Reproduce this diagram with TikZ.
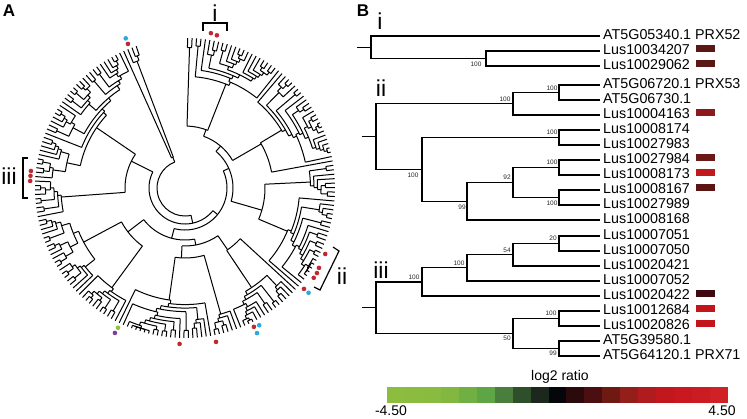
\documentclass[tikz,border=0pt]{standalone}
\usepackage{fontspec}
\setmainfont{Liberation Sans}
\definecolor{dred}{HTML}{C1272D}
\definecolor{dblue}{HTML}{29A9E0}
\definecolor{dgreen}{HTML}{8CC63F}
\definecolor{dpurple}{HTML}{7F3F98}
\definecolor{cb0}{HTML}{8CBD3F}
\definecolor{cb1}{HTML}{8BBC3F}
\definecolor{cb2}{HTML}{89BB40}
\definecolor{cb3}{HTML}{83B840}
\definecolor{cb4}{HTML}{72AF43}
\definecolor{cb5}{HTML}{5EA545}
\definecolor{cb6}{HTML}{4A7E3C}
\definecolor{cb7}{HTML}{2F4F2B}
\definecolor{cb8}{HTML}{1C281D}
\definecolor{cb9}{HTML}{05060A}
\definecolor{cb10}{HTML}{2A0A0C}
\definecolor{cb11}{HTML}{4B0E11}
\definecolor{cb12}{HTML}{6F1913}
\definecolor{cb13}{HTML}{931E1A}
\definecolor{cb14}{HTML}{B01C1E}
\definecolor{cb15}{HTML}{C2171D}
\definecolor{cb16}{HTML}{C9181F}
\definecolor{cb17}{HTML}{CC1C23}
\definecolor{cb18}{HTML}{D02127}
\definecolor{sw1}{HTML}{5A1714}
\definecolor{sw2}{HTML}{8C1A1B}
\definecolor{sw3}{HTML}{6B1916}
\definecolor{sw4}{HTML}{C01A1F}
\definecolor{sw5}{HTML}{5A1512}
\definecolor{sw6}{HTML}{3E0A0F}
\definecolor{sw7}{HTML}{C4141B}
\tikzset{
  treeA/.style={line width=1pt},
  treeB/.style={line width=1.2pt},
  leaflab/.style={font=\fontsize{14.3}{15}\selectfont, anchor=base west, inner sep=0pt},
  bs/.style={font=\fontsize{6.5}{7}\selectfont, inner sep=0pt, text=black!85},
  clab/.style={font=\fontsize{23}{24}\selectfont, inner sep=0pt},
  plab/.style={font=\bfseries\fontsize{17}{18}\selectfont, inner sep=0pt},
  dotm/.style={circle, inner sep=0pt, minimum size=4.6pt, draw=none},
  swatch/.style={minimum width=19pt, minimum height=7pt, inner sep=0pt, draw=none},
  axlab/.style={font=\fontsize{14}{15}\selectfont, inner sep=0pt},
}
% circular tree generator
\def\tThetaZ{89}
\def\tDelta{1.708543}
\def\tRtip{150}
\newcommand\tmid[3]{\pgfmathsetmacro#1{\tThetaZ-\tDelta*(#2+(#3-1)/2)}}
\newcommand\tsub[4]{%
  \tmid\tA{#1}{#2}%
  \ifnum#2=1\relax
    \draw[treeA] (\tA:#3pt) -- (\tA:\tRtip pt);%
  \else
    \draw[treeA] (\tA:#3pt) -- (\tA:#4pt);%
    \pgfmathtruncatemacro\tH{mod(#1*7+#2*13+3,11)}%
    \pgfmathtruncatemacro\tNa{\tH<3 ? 1 : (\tH==3 ? #2-1 : (\tH<6 ? 2 : round(#2*(0.2+0.08*(\tH-6)))))}%
    \pgfmathtruncatemacro\tNa{max(1,min(#2-1,\tNa))}%
    \pgfmathtruncatemacro\tNb{#2-\tNa}%
    \pgfmathtruncatemacro\tFb{#1+\tNa}%
    \tmid\tMa{#1}{\tNa}%
    \tmid\tMb{\tFb}{\tNb}%
    \draw[treeA] (\tMa:#4pt) arc[start angle=\tMa, end angle=\tMb, radius=#4pt];%
    \pgfmathsetmacro\tRa{min(147, max(#4+3.5, 153-8.5*ln(\tNa)/ln(2)-2*mod(#1+\tNa,3)))}%
    \pgfmathsetmacro\tRb{min(147, max(#4+3.5, 153-8.5*ln(\tNb)/ln(2)-2*mod(\tFb+\tNb,3)))}%
    \edef\tNext{\noexpand\tsub{#1}{\tNa}{#4}{\tRa}\noexpand\tsub{\tFb}{\tNb}{#4}{\tRb}}%
    \tNext
  \fi}
\newcommand\tjoin[5]{%
  \pgfmathtruncatemacro\tJn{#2+#3}%
  \tmid\tA{#1}{\tJn}%
  \pgfmathtruncatemacro\tJf{#1+#2}%
  \tmid\tMa{#1}{#2}%
  \tmid\tMb{\tJf}{#3}%
  \draw[treeA] (\tA:#4pt) -- (\tA:#5pt);%
  \draw[treeA] (\tMa:#5pt) arc[start angle=\tMa, end angle=\tMb, radius=#5pt];}
\begin{document}
\begin{tikzpicture}[x=1pt,y=-1pt]
\useasboundingbox (0,0) rectangle (747,418);
% ---------- panel A ----------
\node[plab] (pA) at (9,11) {A};
\begin{scope}[shift={(185,188)}]
  \tjoin{0}{196}{4}{28}{28}
  \tsub{196}{4}{28}{33}
  \tjoin{0}{151}{45}{28}{36}
  \tsub{151}{45}{36}{60}
  \tjoin{0}{77}{74}{36}{42}
  \tjoin{0}{47}{30}{42}{48}
  \tjoin{0}{23}{24}{48}{55}
  \tsub{0}{23}{55}{62}
  \tsub{23}{24}{55}{88}
  \tsub{47}{30}{48}{80}
  \tjoin{77}{44}{30}{42}{52}
  \tjoin{77}{16}{28}{52}{58}
  \tsub{77}{16}{58}{75}
  \tsub{93}{28}{58}{70}
  \tsub{121}{30}{52}{72}
  % markers
  \node[dotm, fill=dred] (m1) at (80.5:157pt) {};
  \node[dotm, fill=dred] (m2) at (78.2:156pt) {};
  \node[dotm, fill=dred] (m3) at (111.6:155pt) {};
  \node[dotm, fill=dblue] (m4) at (111.6:161pt) {};
  \node[dotm, fill=dred] (m5) at (173.7:155pt) {};
  \node[dotm, fill=dred] (m6) at (175.5:155pt) {};
  \node[dotm, fill=dred] (m7) at (177.4:155pt) {};
  \node[dotm, fill=dgreen] (m8) at (244.4:155pt) {};
  \node[dotm, fill=dpurple] (m9) at (244.2:161pt) {};
  \node[dotm, fill=dred] (m10) at (268:156pt) {};
  \node[dotm, fill=dred] (m11) at (281.4:157pt) {};
  \node[dotm, fill=dred] (m12) at (296.4:155pt) {};
  \node[dotm, fill=dblue] (m13) at (298.4:156pt) {};
  \node[dotm, fill=dblue] (m14) at (296.4:162pt) {};
  \node[dotm, fill=dred] (m15) at (334.8:155pt) {};
  \node[dotm, fill=dred] (m16) at (329.2:156pt) {};
  \node[dotm, fill=dred] (m17) at (327.2:157pt) {};
  \node[dotm, fill=dred] (m18) at (325.1:157pt) {};
  \node[dotm, fill=dred] (m19) at (319.7:156pt) {};
  \node[dotm, fill=dblue] (m20) at (319.7:162pt) {};
\end{scope}
% brackets A
\draw[treeB] (203,31) -- (203,23) -- (227,23) -- (227,31);
\node[clab] (ai) at (215,13) {i};
\draw[treeB] (28,158) -- (23,158) -- (23,198) -- (28,198);
\node[clab] (aiii) at (9,176) {iii};
\draw[treeB] (333,247) -- (339,251) -- (320,290) -- (314,287);
\node[clab] (aii) at (342,276) {ii};
% ---------- panel B ----------
\node[plab] (pB) at (363,11) {B};
\node[clab] (bi) at (380,21) {i};
\node[clab] (bii) at (381,88) {ii};
\node[clab] (biii) at (381,270) {iii};
\foreach \i/\y/\t in {1/36/{AT5G05340.1 PRX52},2/51/{Lus10034207},3/66/{Lus10029062},
  4/85/{AT5G06720.1 PRX53},5/100/{AT5G06730.1},6/115/{Lus10004163},7/130/{Lus10008174},
  8/145/{Lus10027983},9/160/{Lus10027984},10/175/{Lus10008173},11/190/{Lus10008167},
  12/205/{Lus10027989},13/220/{Lus10008168},14/236/{Lus10007051},15/251/{Lus10007050},
  16/266/{Lus10020421},17/281/{Lus10007052},18/296/{Lus10020422},19/311/{Lus10012684},
  20/326/{Lus10020826},21/341/{AT5G39580.1},22/356/{AT5G64120.1 PRX71}}{
  \coordinate (l\i) at (600,\y);
  \node[leaflab] (t\i) at (603,\y+3) {\t};
}
% clade i
\coordinate (si) at (357,47.25);
\coordinate (ci) at (371,47.25);
\coordinate (c1) at (486,58.5);
\draw[treeB] (si) -- (ci) (ci) |- (l1) (ci) |- (c1) (c1) |- (l2) (c1) |- (l3);
% clade ii
\coordinate (iia) at (559,92.5);
\coordinate (iib) at (513,103.75);
\coordinate (iic) at (559,137.5);
\coordinate (iid) at (559,167.5);
\coordinate (iie) at (559,197.5);
\coordinate (iif) at (513,182.5);
\coordinate (iig) at (467,201.25);
\coordinate (iih) at (422,169.375);
\coordinate (iir) at (376,136.56);
\coordinate (sii) at (362,136.56);
\draw[treeB] (sii) -- (iir) (iir) |- (iib) (iir) |- (iih) (iib) |- (iia) (iib) |- (l6)
  (iia) |- (l4) (iia) |- (l5) (iih) |- (iic) (iih) |- (iig) (iic) |- (l7) (iic) |- (l8)
  (iig) |- (iif) (iig) |- (l13) (iif) |- (iid) (iif) |- (iie) (iid) |- (l9) (iid) |- (l10)
  (iie) |- (l11) (iie) |- (l12);
% clade iii
\coordinate (iiia) at (559,243.5);
\coordinate (iiib) at (513,254.75);
\coordinate (iiic) at (467,267.875);
\coordinate (iiid) at (422,281.94);
\coordinate (iiie) at (559,318.5);
\coordinate (iiif) at (559,348.5);
\coordinate (iiig) at (513,333.5);
\coordinate (iiir) at (376,307.72);
\coordinate (siii) at (362,307.72);
\draw[treeB] (siii) -- (iiir) (iiir) |- (iiid) (iiir) |- (iiig) (iiid) |- (iiic) (iiid) |- (l18)
  (iiic) |- (iiib) (iiic) |- (l17) (iiib) |- (iiia) (iiib) |- (l16) (iiia) |- (l14) (iiia) |- (l15)
  (iiig) |- (iiie) (iiig) |- (iiif) (iiie) |- (l19) (iiie) |- (l20) (iiif) |- (l21) (iiif) |- (l22);
% bootstrap values
\node[bs] (b1) at (476,64) {100};
\node[bs] (b2) at (552,88) {100};
\node[bs] (b3) at (505,99) {100};
\node[bs] (b4) at (552,132) {100};
\node[bs] (b5) at (552,162) {100};
\node[bs] (b6) at (507,177) {92};
\node[bs] (b7) at (552,203) {100};
\node[bs] (b8) at (462,207) {99};
\node[bs] (b9) at (413,175) {100};
\node[bs] (b10) at (553,238) {20};
\node[bs] (b11) at (507,250) {54};
\node[bs] (b12) at (459,263) {100};
\node[bs] (b13) at (414,277) {100};
\node[bs] (b14) at (551,313) {100};
\node[bs] (b15) at (507,338) {50};
\node[bs] (b16) at (553,353) {99};
% swatches
\node[swatch, fill=sw1] (s2) at (705.5,48) {};
\node[swatch, fill=sw1] (s3) at (705.5,63) {};
\node[swatch, fill=sw2] (s6) at (705.5,112) {};
\node[swatch, fill=sw3] (s9) at (705.5,157) {};
\node[swatch, fill=sw4] (s10) at (705.5,172) {};
\node[swatch, fill=sw5] (s11) at (705.5,187) {};
\node[swatch, fill=sw6] (s18) at (705.5,293) {};
\node[swatch, fill=sw7] (s19) at (705.5,308) {};
\node[swatch, fill=sw7] (s20) at (705.5,323) {};
% colour bar
\foreach \c [count=\i from 0] in {cb0,cb1,cb2,cb3,cb4,cb5,cb6,cb7,cb8,cb9,cb10,cb11,cb12,cb13,cb14,cb15,cb16,cb17,cb18}{
  \fill[\c] (387+\i*17.947,387) rectangle ++(18.3,16);
}
\node[axlab] (lr) at (560,377) {log2 ratio};
\node[axlab] (lmin) at (391,411) {-4.50};
\node[axlab] (lmax) at (722,411) {4.50};
\end{tikzpicture}
\end{document}
